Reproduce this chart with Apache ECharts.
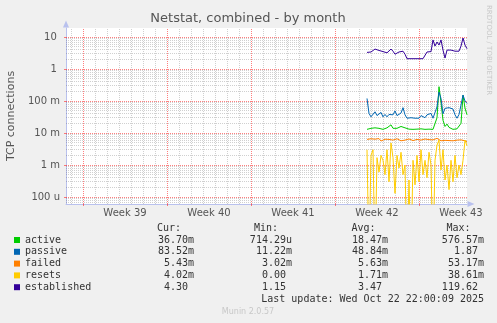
<!DOCTYPE html>
<html><head><meta charset="utf-8">
<script src="https://cdn.jsdelivr.net/npm/echarts@6/dist/echarts.min.js"></script>
<style>html,body{margin:0;padding:0;background:#f0f0f0;}#c{width:497px;height:323px;}</style>
</head><body><div id="c"></div>
<script>
// ---- data (hours counted from Mon 22 Sep 2025 00:00) ----
const startHour = 568;
const stepHours = 4;
const active = [0.013,0.0135,0.014,0.015,0.0145,0.013,0.014,0.0145,0.013,0.014,
  0.0145,0.0155,0.018,0.014,0.0128,0.014,0.015,0.016,0.014,0.0145,
  0.013,0.0132,0.0135,0.013,0.0138,0.0132,0.013,0.0135,0.0132,0.013,
  0.0138,0.0132,0.0135,0.013,0.0145,0.03,0.28,0.09,0.025,0.016,
  0.019,0.015,0.014,0.013,0.014,0.0135,0.015,0.02,0.15,0.06,0.037];
const passive = [0.12,0.041,0.032,0.034,0.046,0.035,0.039,0.044,0.032,0.038,
  0.032,0.038,0.035,0.037,0.049,0.035,0.040,0.042,0.062,0.037,
  0.029,0.031,0.030,0.032,0.029,0.032,0.029,0.035,0.031,0.030,
  0.037,0.034,0.041,0.029,0.032,0.066,0.19,0.12,0.04,0.059,
  0.052,0.062,0.062,0.056,0.037,0.029,0.038,0.075,0.154,0.10,0.084];
const failed = [0.0063,0.0060,0.0066,0.0058,0.0064,0.0061,0.0067,0.0056,0.0060,0.0064,
  0.0057,0.0063,0.0055,0.0060,0.0058,0.0066,0.0060,0.0057,0.0063,0.0060,
  0.0057,0.0065,0.0061,0.0058,0.0060,0.0063,0.0057,0.0060,0.0061,0.0065,
  0.0058,0.0062,0.0056,0.0061,0.0064,0.0068,0.0060,0.0057,0.0062,0.0059,
  0.0063,0.0058,0.0061,0.0057,0.0062,0.0060,0.0059,0.0061,0.0066,0.0057,0.0054];
const resets = [0.003,0,0.002,0.003,0,0.0017,0.0006,0.002,0.0014,0.0005,
  0.003,0.0003,0.0049,0.0017,0.00013,0.002,0.0008,0.0025,0.0005,0.001,
  0,0.00034,0,0.0014,0.00024,0.002,0.0003,0.003,0.0005,0.0014,
  0.0004,0.0025,0.001,0,0.0014,0.0042,0.006,0.0007,0.003,0.00034,
  0.001,0.00017,0.0014,0.0003,0.002,0.0004,0.001,0.0005,0.0014,0.006,0.004];
const established = [3.3,3.3,3.4,3.8,4.2,4.3,3.8,3.4,3.5,3.4,
  3.2,3.4,4.2,3.6,2.9,3.2,3.4,3.9,3.6,2.9,
  2.1,2.1,2.1,2.2,2.1,2.15,2.1,2.2,2.1,2.2,
  3.4,3.3,3.5,8.1,5.2,7.0,5.6,8.1,3.9,2.2,
  3.9,3.6,3.9,3.8,3.6,3.5,3.6,5.2,9.3,5.6,4.3];

const seriesNames = ['active','passive','failed','resets','established'];
const seriesColors = ['#00cc00','#0066b3','#ff8000','#ffcc00','#330099'];
const seriesValues = [active, passive, failed, resets, established];

const weekLabels = ['Week 39','Week 40','Week 41','Week 42','Week 43'];
const weekMids = [84,252,420,588,756];
const weekStarts = [0,168,336,504,672];
const yTickValues = [1e-4,1e-3,1e-2,1e-1,1,10];
const yTickLabels = ['100 u','1 m','10 m','100 m','1 ','10 '];

const legendHeads = ['Cur:','Min:','Avg:','Max:'];
const curVals = ['36.70m','83.52m','5.43m','4.02m','4.30 '];
const minVals = ['714.29u','11.22m','3.02m','0.00 ','1.15 '];
const avgVals = ['18.47m','48.84m','5.63m','1.71m','3.47 '];
const maxVals = ['576.57m','1.87 ','53.17m','38.61m','119.62 '];
const lastUpdate = 'Last update: Wed Oct 22 22:00:09 2025';

// ---- layout ----
const X_MIN = -34, X_MAX = 768;
const Y_MIN = Math.pow(10, -4.21875), Y_MAX = Math.pow(10, 1.28125);
const RED = 'rgba(255,0,0,0.5)';
const GREY = 'rgba(100,100,100,0.3)';
const AXIS = '#b9c1ee';
const FONT = 'DejaVu Sans';
const MONO = 'DejaVu Sans Mono';

const yMinor = [];
for (let k = -5; k <= 1; k++) for (let m = 2; m <= 9; m++) {
  const v = m * Math.pow(10, k);
  if (v > Y_MIN && v < Y_MAX) yMinor.push(v);
}
const dayLines = [];
for (let d = -24; d <= 744; d += 24) if (d % 168 !== 0) dayLines.push(d);

const gridLines = [];
const dot = [1, 1];
dayLines.forEach(v => gridLines.push({ xAxis: v, lineStyle: { color: GREY, width: 1, type: dot } }));
yMinor.forEach(v => gridLines.push({ yAxis: v, lineStyle: { color: GREY, width: 1, type: dot } }));
weekStarts.forEach(v => gridLines.push({ xAxis: v, lineStyle: { color: RED, width: 1, type: dot } }));
yTickValues.forEach(v => gridLines.push({ yAxis: v, lineStyle: { color: RED, width: 1, type: dot } }));

const floorVal = 1e-6; // zero values fall below the log axis
const series = [{
  type: 'line', name: 'grid', data: [], xAxisIndex: 0, yAxisIndex: 0, z: 1, silent: true,
  markLine: { silent: true, z: 1, precision: 12, symbol: ['none', 'none'], label: { show: false }, animation: false,
    emphasis: { disabled: true }, data: gridLines }
}].concat(seriesValues.map((arr, s) => ({
  type: 'line', name: seriesNames[s], xAxisIndex: 0, yAxisIndex: 0, z: 10,
  data: arr.map((v, i) => [startHour + i * stepHours, v > 0 ? v : floorVal]),
  symbol: 'none', clip: true, animation: false,
  lineStyle: { color: seriesColors[s], width: 1 }, itemStyle: { color: seriesColors[s] }
})));

const graphic = [];
graphic.push({ type: 'text', x: 248, y: 19, style: { text: 'Netstat, combined - by month', fontSize: 13, fontFamily: FONT, fill: '#555', align: 'center', verticalAlign: 'middle' } });
graphic.push({ type: 'text', x: 11, y: 116, rotation: Math.PI / 2, style: { text: 'TCP connections', fontSize: 11, fontFamily: FONT, fill: '#555', align: 'center', verticalAlign: 'middle' } });
graphic.push({ type: 'text', x: 489, y: 5, rotation: -Math.PI / 2, style: { text: 'RRDTOOL / TOBI OETIKER', fontSize: 7, fontFamily: FONT, fill: '#c8c8c8', align: 'left', verticalAlign: 'middle' } });
const headX = [157, 254, 351.5, 446.5];
const valRight = [194, 292, 388, 484];
legendHeads.forEach((h, j) => graphic.push({ type: 'text', x: headX[j], y: 228, style: { text: h, fontSize: 10, fontFamily: MONO, fill: '#333', align: 'left', verticalAlign: 'middle' } }));
const cols = [curVals, minVals, avgVals, maxVals];
seriesNames.forEach((n, r) => {
  const y = 240 + r * 11.8;
  graphic.push({ type: 'rect', shape: { x: 14, y: y - 3, width: 6, height: 6 }, style: { fill: seriesColors[r] } });
  graphic.push({ type: 'text', x: 25, y: y, style: { text: n, fontSize: 10, fontFamily: MONO, fill: '#333', align: 'left', verticalAlign: 'middle' } });
  cols.forEach((c, j) => graphic.push({ type: 'text', x: valRight[j], y: y, style: { text: c[r], fontSize: 10, fontFamily: MONO, fill: '#333', align: 'right', verticalAlign: 'middle' } }));
});
graphic.push({ type: 'text', x: 484, y: 299.5, style: { text: lastUpdate, fontSize: 10, fontFamily: MONO, fill: '#333', align: 'right', verticalAlign: 'middle' } });
graphic.push({ type: 'text', x: 248, y: 312, style: { text: 'Munin 2.0.57', fontSize: 8, fontFamily: FONT, fill: '#c8c8c8', align: 'center', verticalAlign: 'middle' } });

const option = {
  backgroundColor: '#f0f0f0',
  animation: false,
  grid: { left: 66, top: 28, width: 401, height: 176, show: true, backgroundColor: '#ffffff', borderWidth: 0 },
  xAxis: [
    { type: 'value', min: X_MIN, max: X_MAX, position: 'bottom',
      axisLine: { show: true, onZero: false, lineStyle: { color: AXIS, width: 1 }, symbol: ['none', 'triangle'], symbolSize: [6, 7], symbolOffset: [0, 4] },
      axisTick: { show: true, length: 2, customValues: weekStarts, lineStyle: { color: RED } },
      axisLabel: { show: true, customValues: weekMids, margin: 4, fontSize: 10, fontFamily: FONT, color: '#555',
        formatter: v => { const k = weekMids.indexOf(Math.round(v)); return k >= 0 ? weekLabels[k] : ''; } },
      splitLine: { show: false } }
  ],
  yAxis: [
    { type: 'log', logBase: 10, min: Y_MIN, max: Y_MAX, position: 'left',
      axisLine: { show: true, onZero: false, lineStyle: { color: AXIS, width: 1 }, symbol: ['none', 'triangle'], symbolSize: [6, 7], symbolOffset: [0, 4] },
      axisTick: { show: true, length: 2, customValues: yTickValues, lineStyle: { color: RED } },
      axisLabel: { show: true, customValues: yTickValues, margin: 6, fontSize: 10, fontFamily: FONT, color: '#555',
        formatter: v => { for (let k = 0; k < yTickValues.length; k++) if (Math.abs(Math.log10(v) - Math.log10(yTickValues[k])) < 1e-6) return yTickLabels[k]; return ''; } },
      splitLine: { show: false } }
  ],
  series: series,
  graphic: graphic
};
const chart = echarts.init(document.getElementById('c'), null, { renderer: 'canvas' });
chart.setOption(option);
</script></body></html>
